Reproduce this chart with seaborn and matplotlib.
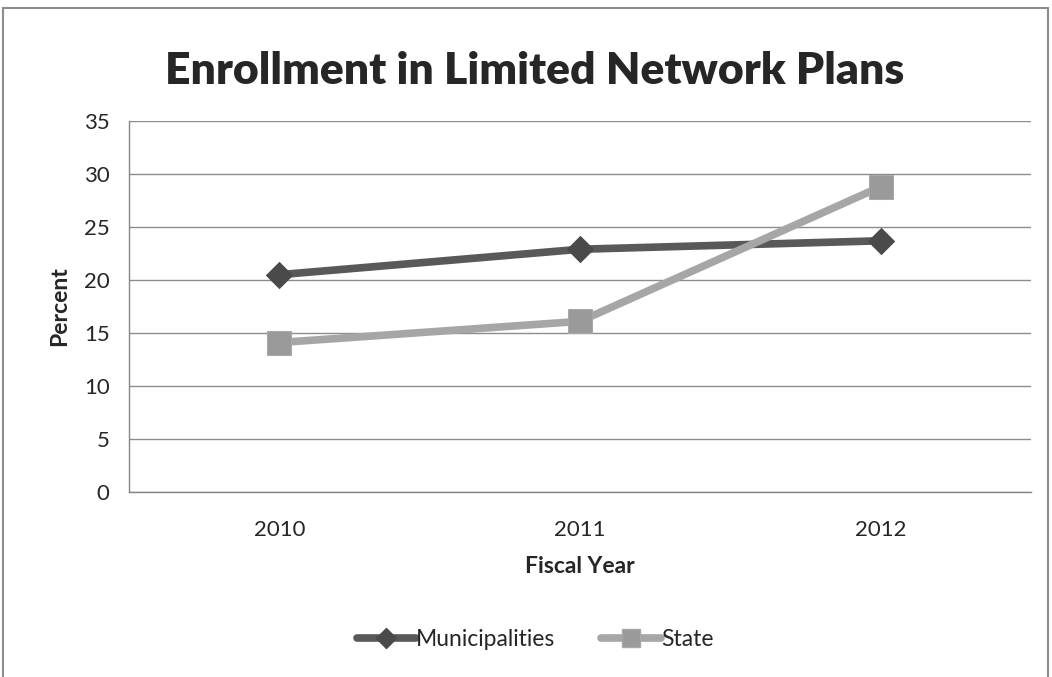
import matplotlib
matplotlib.use("Agg")
import matplotlib.pyplot as plt
import seaborn as sns
import pandas as pd
from matplotlib.patches import Rectangle
from matplotlib.lines import Line2D

years = ["2010", "2011", "2012"]
municipalities = [20.5, 22.9, 23.7]
state = [14.1, 16.1, 28.8]
series_names = ["Municipalities", "State"]
y_ticks = [0, 5, 10, 15, 20, 25, 30, 35]

df = pd.DataFrame({
    "Fiscal Year": list(range(len(years))) * 2,
    "Percent": municipalities + state,
    "Series": [series_names[0]] * len(years) + [series_names[1]] * len(years),
})

sns.set_style("white")
plt.rcParams["font.family"] = ["Lato", "DejaVu Sans"]

fig = plt.figure(figsize=(10.52, 6.77), dpi=100)
ax = fig.add_axes([129 / 1052, 1 - 492 / 677, (1031 - 129) / 1052, (492 - 121) / 677])

palette = {"Municipalities": "#595959", "State": "#A6A6A6"}
sns.lineplot(data=df, x="Fiscal Year", y="Percent", hue="Series", style="Series",
             palette=palette, markers={"Municipalities": "D", "State": "s"},
             dashes=False, linewidth=5.5, ax=ax, legend=False)

for line, name in zip(ax.lines, series_names):
    if name == "Municipalities":
        line.set_markersize(13)
        line.set_markerfacecolor("#4A4A4A")
        line.set_markeredgecolor("#4A4A4A")
    else:
        line.set_markersize(17)
        line.set_markerfacecolor("#9A9A9A")
        line.set_markeredgecolor("#A8A8A8")

ax.set_xlim(-0.5, len(years) - 0.5)
ax.set_ylim(0, 35)
ax.set_yticks(y_ticks)
ax.set_yticklabels([str(t) for t in y_ticks], fontsize=16)
ax.set_xticks(range(len(years)))
ax.set_xticklabels(years, fontsize=16)
ax.set_xticks([i - 0.5 for i in range(len(years) + 1)], minor=True)
ax.tick_params(axis="x", which="major", length=0, pad=20)
ax.tick_params(axis="x", which="minor", length=6, color="#868686", width=1, direction="out")
ax.tick_params(axis="y", which="major", length=6, color="#868686", width=1, direction="out", pad=8)

ax.yaxis.grid(True, color="#8C8C8C", linewidth=1)
ax.xaxis.grid(False)
ax.set_axisbelow(True)
for s in ["top", "right"]:
    ax.spines[s].set_visible(False)
for s in ["left", "bottom"]:
    ax.spines[s].set_color("#868686")
    ax.spines[s].set_linewidth(1)

ax.set_xlabel("Fiscal Year", fontsize=16.5, fontweight="bold", labelpad=12)
ax.set_ylabel("Percent", fontsize=16.5, fontweight="bold", labelpad=10)

fig.suptitle("Enrollment in Limited Network Plans", x=535 / 1052, y=1 - 71 / 677,
             va="center", fontsize=32, fontweight="heavy")

handles = [
    Line2D([], [], color="#595959", lw=5.5, marker="D", markersize=10,
           markerfacecolor="#4A4A4A", markeredgecolor="#4A4A4A"),
    Line2D([], [], color="#A6A6A6", lw=5.5, marker="s", markersize=13,
           markerfacecolor="#9A9A9A", markeredgecolor="#A8A8A8"),
]
fig.legend(handles, series_names, loc="center", bbox_to_anchor=(535 / 1052, 1 - 640 / 677),
           ncol=2, frameon=False, fontsize=16.5, handlelength=2.6, handletextpad=0.0,
           columnspacing=2.0)

fig.patches.append(Rectangle((3 / 1052, -0.02), 1045 / 1052, 1.02 - 8 / 677,
                             transform=fig.transFigure, fill=False,
                             edgecolor="#8C8C8C", linewidth=1.5))

fig.savefig("out.png", dpi=100)
